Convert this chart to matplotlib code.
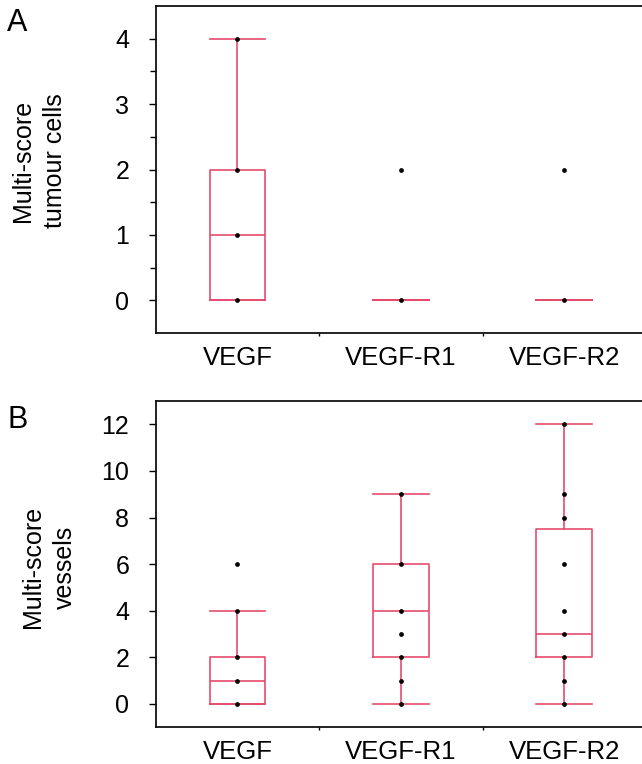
import matplotlib
matplotlib.use("Agg")
import matplotlib.pyplot as plt
from matplotlib.ticker import FixedLocator

plt.rcParams['font.family'] = ['Liberation Sans', 'DejaVu Sans']

categories = ["VEGF", "VEGF-R1", "VEGF-R2"]

# Panel A: tumour cells (distinct observed values, box statistics)
a_points = [[0, 1, 2, 4], [0, 2], [0, 2]]
a_q1 = [0, 0, 0]
a_med = [1, 0, 0]
a_q3 = [2, 0, 0]
a_lo = [0, 0, 0]
a_hi = [4, 0, 0]

# Panel B: vessels
b_points = [[0, 1, 2, 4, 6], [0, 1, 2, 3, 4, 6, 9], [0, 1, 2, 3, 4, 6, 8, 9, 12]]
b_q1 = [0, 2, 2]
b_med = [1, 4, 3]
b_q3 = [2, 6, 7.5]
b_lo = [0, 0, 0]
b_hi = [4, 9, 12]

a_yticks = [0, 1, 2, 3, 4]
b_yticks = [0, 2, 4, 6, 8, 10, 12]

BOX_COLOR = '#E64B6C'
W, H = 642, 764
fig = plt.figure(figsize=(W / 100, H / 100), dpi=100)

def px_axes(left, right, top, bottom):
    return fig.add_axes([left / W, 1 - bottom / H, (right - left) / W, (bottom - top) / H])

axA = px_axes(155.7, 646.0, 6.0, 333.0)
axB = px_axes(155.7, 646.0, 401.0, 727.3)

def draw(ax, pts, q1, med, q3, lo, hi):
    stats = []
    for i in range(len(categories)):
        stats.append(dict(med=med[i], q1=q1[i], q3=q3[i], whislo=lo[i], whishi=hi[i], fliers=[]))
    pos = list(range(1, len(categories) + 1))
    lp = dict(color=BOX_COLOR, linewidth=1.2)
    ax.bxp(stats, positions=pos, widths=0.34, capwidths=0.34, showfliers=False,
           boxprops=lp, whiskerprops=lp, capprops=lp, medianprops=lp,
           manage_ticks=False)
    for p, vals in zip(pos, pts):
        ax.plot([p] * len(vals), vals, linestyle='none', marker='o', ms=2.4,
                color='black', zorder=5)
    ax.set_xlim(0.5, 3.5)
    ax.set_xticks(pos)
    ax.set_xticklabels(categories, fontsize=18.5)
    ax.xaxis.set_minor_locator(FixedLocator([1.5, 2.5]))
    ax.tick_params(axis='x', which='major', length=0, pad=9.5)
    ax.tick_params(axis='x', which='minor', length=2.5, width=1.0, direction='out')
    ax.tick_params(axis='y', which='major', length=5, width=1.0, direction='out',
                   labelsize=18, pad=14)
    ax.tick_params(axis='y', which='minor', length=4, width=1.0, direction='out')
    for s in ax.spines.values():
        s.set_linewidth(1.3)
        s.set_color('#111111')
    ax.spines['right'].set_visible(False)

draw(axA, a_points, a_q1, a_med, a_q3, a_lo, a_hi)
axA.set_ylim(-0.5, 4.5)
axA.set_yticks(a_yticks)
axA.yaxis.set_minor_locator(FixedLocator([0.5, 1.5, 2.5, 3.5]))
axA.set_ylabel("Multi-score\ntumour cells", fontsize=18, linespacing=1.4)
axA.yaxis.set_label_coords(-0.181, 0.527)

draw(axB, b_points, b_q1, b_med, b_q3, b_lo, b_hi)
axB.set_ylim(-1, 13)
axB.set_yticks(b_yticks)
axB.set_ylabel("Multi-score\nvessels", fontsize=18, linespacing=1.4)
axB.yaxis.set_label_coords(-0.1605, 0.49)

fig.text(7 / W, 1 - 31 / H, "A", fontsize=22, ha='left', va='baseline')
fig.text(8 / W, 1 - 428 / H, "B", fontsize=22, ha='left', va='baseline')

fig.savefig("out.png", dpi=100)
